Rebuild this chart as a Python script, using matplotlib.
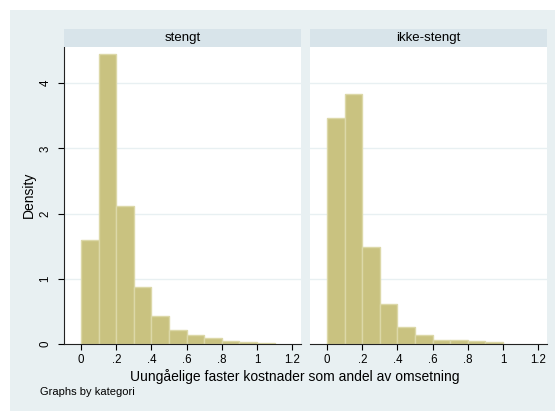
import numpy as np
import matplotlib.pyplot as plt

plt.rcParams['font.family'] = ['Liberation Sans', 'DejaVu Sans']

# Histogram densities, bin width 0.1 starting at 0
bin_width = 0.1
groups = ['stengt', 'ikke-stengt']
density_stengt = [1.59, 4.45, 2.11, 0.87, 0.43, 0.215, 0.14, 0.087, 0.046, 0.03, 0.012]
density_ikke = [3.47, 3.83, 1.48, 0.61, 0.26, 0.14, 0.06, 0.066, 0.046, 0.03]
xticks = [0, 0.2, 0.4, 0.6, 0.8, 1.0, 1.2]
xticklabels = ['0', '.2', '.4', '.6', '.8', '1', '1.2']
yticks = [0, 1, 2, 3, 4]

W, H = 555, 412
fig = plt.figure(figsize=(W / 100, H / 100), dpi=100)

bg = '#e8f0f2'
strip_col = '#d8e4ea'
bar_col = '#c9c280'
edge_col = '#dcd8a8'

def px_axes(x0, y0, x1, y1):
    return fig.add_axes([x0 / W, 1 - y1 / H, (x1 - x0) / W, (y1 - y0) / H])

def blank(ax, color):
    ax.set_facecolor(color)
    ax.set_xticks([])
    ax.set_yticks([])
    for s in ax.spines.values():
        s.set_visible(False)

# graph region background
blank(px_axes(10, 10, W, 411), bg)

panels = [(64, 301, density_stengt), (310, 547, density_ikke)]
for i, (x0, x1, dens) in enumerate(panels):
    ax = px_axes(x0, 47, x1, 344)
    ax.set_facecolor('white')
    lefts = np.arange(len(dens)) * bin_width
    ax.bar(lefts, dens, width=bin_width, align='edge', color=bar_col,
           edgecolor=edge_col, linewidth=1, zorder=2)
    for yv in yticks[1:]:
        ax.axhline(yv, color=bg, lw=1, zorder=1)
    ax.set_xlim(-0.097, 1.25)
    ax.set_ylim(0, 4.555)
    ax.set_xticks(xticks)
    ax.set_xticklabels(xticklabels, fontsize=8.3)
    ax.tick_params(axis='x', length=4, width=0.8, pad=3)
    for s in ['top', 'right']:
        ax.spines[s].set_visible(False)
    ax.spines['bottom'].set_color('#222222')
    if i == 0:
        ax.set_yticks(yticks)
        ax.set_yticklabels([str(v) for v in yticks], fontsize=8.3,
                           rotation=90, va='center')
        ax.tick_params(axis='y', length=4, width=0.8, pad=5)
        ax.spines['left'].set_color('#222222')
    else:
        ax.spines['left'].set_visible(False)
        ax.set_yticks([])

    # panel strip
    sax = px_axes(x0, 29, x1, 47)
    blank(sax, strip_col)
    sax.text(0.5, 0.5, groups[i], ha='center', va='center', fontsize=9.5,
             transform=sax.transAxes)

fig.text(29 / W, 1 - 195 / H, 'Density', rotation=90, ha='center', va='center',
         fontsize=10)
fig.text(295 / W, 1 - 377 / H, 'Uungåelige faster kostnader som andel av omsetning',
         ha='center', va='center', fontsize=10)
fig.text(40 / W, 1 - 392 / H, 'Graphs by kategori', ha='left', va='center', fontsize=8)

fig.savefig('out.png', dpi=100)
